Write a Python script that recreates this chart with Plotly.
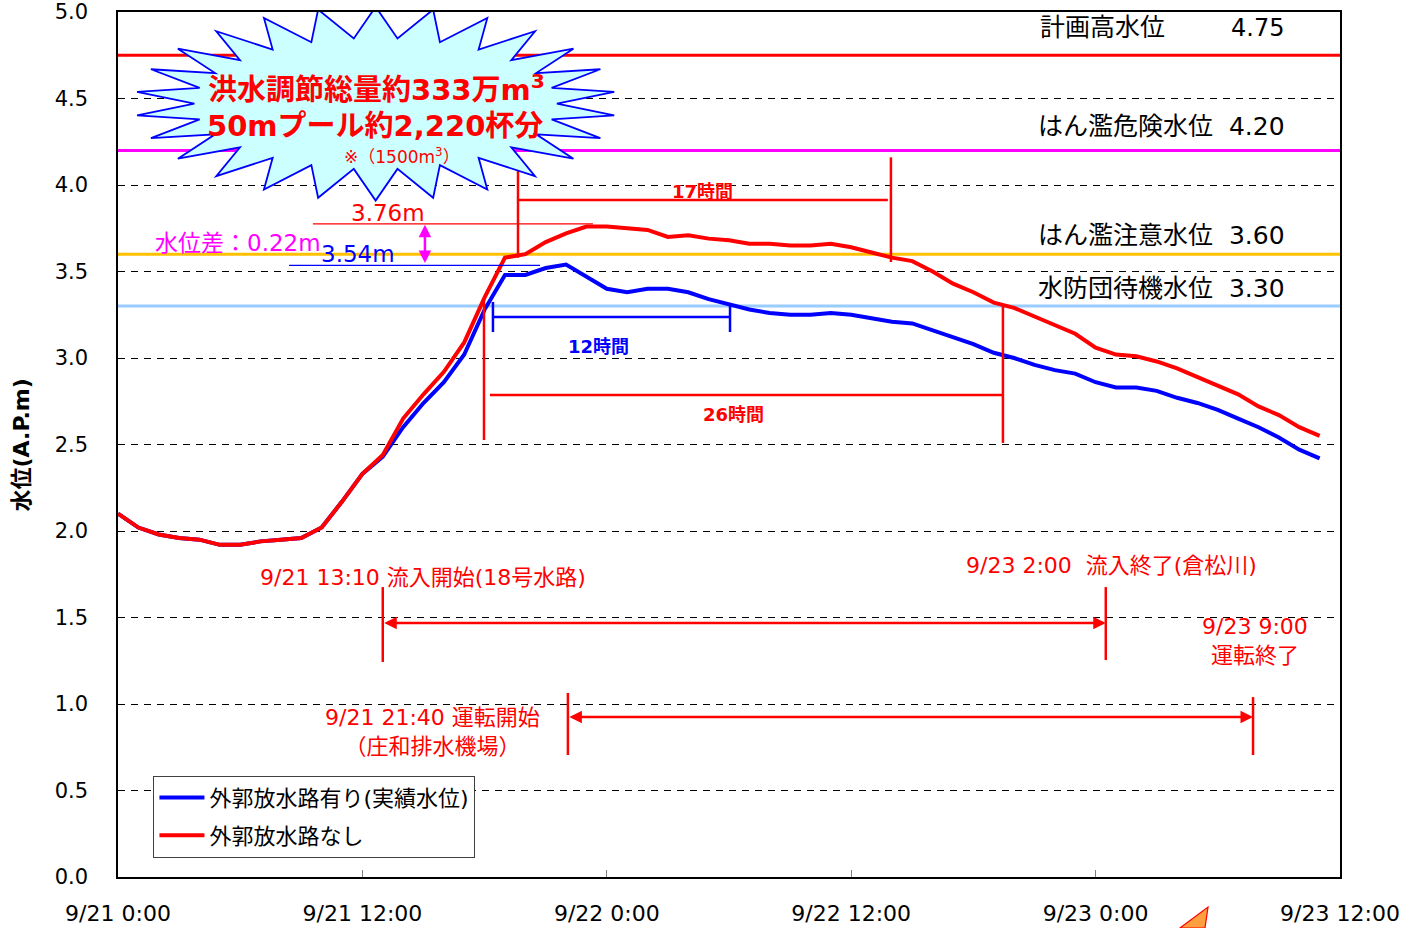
import math
import plotly.graph_objects as go

# ---------------- data ----------------
hours = list(range(60))
with_channel = [2.10, 2.02, 1.98, 1.96, 1.95, 1.92, 1.92, 1.94, 1.95, 1.96,
                2.02, 2.17, 2.33, 2.43, 2.60, 2.74, 2.86, 3.02, 3.28, 3.48,
                3.48, 3.52, 3.54, 3.47, 3.40, 3.38, 3.40, 3.40, 3.38, 3.34,
                3.31, 3.28, 3.26, 3.25, 3.25, 3.26, 3.25, 3.23, 3.21, 3.20,
                3.16, 3.12, 3.08, 3.03, 3.00, 2.96, 2.93, 2.91, 2.86, 2.83,
                2.83, 2.81, 2.77, 2.74, 2.70, 2.65, 2.60, 2.54, 2.47, 2.42]
without_channel = [2.10, 2.02, 1.98, 1.96, 1.95, 1.92, 1.92, 1.94, 1.95, 1.96,
                   2.02, 2.17, 2.33, 2.44, 2.65, 2.79, 2.92, 3.09, 3.35, 3.58,
                   3.60, 3.67, 3.72, 3.76, 3.76, 3.75, 3.74, 3.70, 3.71, 3.69,
                   3.68, 3.66, 3.66, 3.65, 3.65, 3.66, 3.64, 3.61, 3.58, 3.56,
                   3.50, 3.43, 3.38, 3.32, 3.29, 3.24, 3.19, 3.14, 3.06, 3.02,
                   3.01, 2.98, 2.94, 2.89, 2.84, 2.79, 2.72, 2.67, 2.60, 2.55]
series_names = ["外郭放水路有り(実績水位)", "外郭放水路なし"]

ref_levels = [4.75, 4.20, 3.60, 3.30]
ref_names = ["計画高水位", "はん濫危険水位", "はん濫注意水位", "水防団待機水位"]
ref_colors = ["#FF0000", "#FF00FF", "#FFC000", "#99CCFF"]

x_tickvals = [0, 12, 24, 36, 48, 60]
x_ticktext = ["9/21 0:00", "9/21 12:00", "9/22 0:00", "9/22 12:00", "9/23 0:00", "9/23 12:00"]
y_title = "水位(A.P.m)"

peak_without = 3.76
peak_with = 3.54

FONT = "DejaVu Sans, Noto Sans CJK JP, sans-serif"
RED = "#FF0000"
BLUE = "#0000FF"

fig = go.Figure()

# reference level lines
for lvl, col in zip(ref_levels, ref_colors):
    fig.add_trace(go.Scatter(x=[0, 60], y=[lvl, lvl], mode="lines",
                             line=dict(color=col, width=3), showlegend=False,
                             hoverinfo="skip"))

fig.add_trace(go.Scatter(x=hours, y=with_channel, mode="lines", name=series_names[0],
                         legendgroup="a", line=dict(color=BLUE, width=4)))
fig.add_trace(go.Scatter(x=hours, y=without_channel, mode="lines", name=series_names[1],
                         legendgroup="b", line=dict(color=RED, width=4)))

shapes = []
annotations = []


def seg(x0, y0, x1, y1, color, width):
    shapes.append(dict(type="line", xref="x", yref="y", x0=x0, y0=y0, x1=x1, y1=y1,
                       line=dict(color=color, width=width), layer="above"))


def txt(x, y, text, color, size, bold=False, family=FONT, xanchor="center"):
    if bold:
        text = "<b>" + text + "</b>"
    annotations.append(dict(x=x, y=y, xref="x", yref="y", text=text, showarrow=False,
                            xanchor=xanchor, yanchor="middle",
                            font=dict(color=color, size=size, family=family)))


def arrow(x0, y0, x1, y1, color, width, head=2, size=1.0):
    annotations.append(dict(x=x1, y=y1, ax=x0, ay=y0, xref="x", yref="y",
                            axref="x", ayref="y", text="", showarrow=True,
                            arrowhead=head, startarrowhead=head, arrowside="end+start",
                            arrowsize=size, startarrowsize=size,
                            arrowwidth=width, arrowcolor=color))


# 17 hours bracket (red)
seg(19.64, 4.17, 19.64, 3.58, RED, 2.5)
seg(37.95, 4.16, 37.95, 3.555, RED, 2.5)
seg(19.64, 3.913, 37.8, 3.913, RED, 2.5)
txt(28.72, 3.965, "17時間", RED, 18, bold=True)

# 12 hours bracket (blue)
seg(18.41, 3.324, 18.41, 3.150, BLUE, 2.5)
seg(30.05, 3.306, 30.05, 3.150, BLUE, 2.5)
seg(18.41, 3.237, 30.05, 3.237, BLUE, 2.5)
txt(23.57, 3.064, "12時間", BLUE, 18, bold=True)

# 26 hours bracket (red)
seg(17.97, 3.335, 17.97, 2.526, RED, 2.5)
seg(43.45, 3.306, 43.45, 2.509, RED, 2.5)
seg(18.26, 2.786, 43.45, 2.786, RED, 2.5)
txt(30.2, 2.676, "26時間", RED, 18, bold=True)

# peak markers
seg(9.57, peak_without + 0.015, 23.32, peak_without + 0.015, RED, 1.3)
seg(8.40, peak_with - 0.005, 20.72, peak_with - 0.005, BLUE, 1.3)
txt(13.26, 3.838, "%.2fm" % peak_without, RED, 23)
txt(11.78, 3.601, "%.2fm" % peak_with, BLUE, 23)
arrow(15.07, peak_with, 15.07, peak_without + 0.01, "#FF00FF", 2.5, head=2, size=1.0)
txt(5.89, 3.665, "水位差：%.2fm" % (peak_without - peak_with), "#FF00FF", 23)

# inflow period
seg(13.0, 1.676, 13.0, 1.243, RED, 2.5)
seg(48.5, 1.676, 48.5, 1.254, RED, 2.5)
arrow(13.0, 1.468, 48.5, 1.468, RED, 2.5, head=2, size=1.0)
txt(14.97, 1.734, "9/21 13:10 流入開始(18号水路)", RED, 22)
txt(48.8, 1.803, "9/23 2:00  流入終了(倉松川)", RED, 22)

# pump operation period
seg(22.09, 1.064, 22.09, 0.705, RED, 2.5)
seg(55.73, 1.040, 55.73, 0.705, RED, 2.5)
arrow(22.09, 0.925, 55.73, 0.925, RED, 2.5, head=2, size=1.0)
txt(15.42, 0.841, "9/21 21:40 運転開始<br>（庄和排水機場）", RED, 22)
txt(55.83, 1.364, "9/23 9:00<br>運転終了", RED, 22)

# reference labels
txt(45.17, 4.910, ref_names[0], "#000000", 25, xanchor="left")
txt(54.55, 4.910, "%.2f" % ref_levels[0], "#000000", 24, xanchor="left")
for name, lvl, yy in zip(ref_names[1:], ref_levels[1:], [4.341, 3.711, 3.399]):
    txt(45.05, yy, name + "  %.2f" % lvl, "#000000", 25, xanchor="left")

# starburst
cx, cy = 12.65, 4.47
n = 26
pts = []
for i in range(2 * n):
    ang = math.pi / 2 + i * math.pi / n
    if i % 2 == 0:
        rx, ry = 11.8, 0.56
    else:
        rx, ry = 8.9, 0.38
    pts.append((cx + rx * math.cos(ang), cy + ry * math.sin(ang)))
path = "M " + " L ".join("%.3f,%.3f" % p for p in pts) + " Z"
shapes.append(dict(type="path", xref="x", yref="y", path=path,
                   fillcolor="#CCFFFF", line=dict(color=BLUE, width=1.8), layer="above"))
txt(12.67, 4.561, "洪水調節総量約333万m<sup>3</sup>", RED, 29, bold=True)
txt(12.62, 4.341, "50mプール約2,220杯分", RED, 29, bold=True)
txt(13.94, 4.168, "※（1500m<sup>3</sup>）", RED, 17)

# y-axis title
annotations.append(dict(x=-0.0786, y=0.5, xref="paper", yref="paper",
                        text="<b>" + y_title + "</b>", textangle=-90, showarrow=False,
                        xanchor="center", yanchor="middle",
                        font=dict(size=22, family=FONT, color="#000000")))

# small orange clip-art corner
shapes.append(dict(type="path", xref="paper", yref="paper",
                   path="M 0.869,-0.059 L 0.892,-0.0347 L 0.8895,-0.059 Z",
                   fillcolor="#FFA040", line=dict(color=RED, width=1.2), layer="above"))

fig.update_layout(
    width=1424, height=928,
    margin=dict(l=118, r=84, t=12, b=51, autoexpand=False),
    paper_bgcolor="white", plot_bgcolor="white",
    font=dict(family=FONT, size=20, color="#000000"),
    shapes=shapes, annotations=annotations,
    showlegend=True,
    legend=dict(x=0.029, y=0.117, xanchor="left", yanchor="top",
                bgcolor="white", bordercolor="#404040", borderwidth=1,
                font=dict(family=FONT, size=22, color="#000000"),
                tracegroupgap=6, itemwidth=45),
)
fig.update_xaxes(range=[0, 60], tickvals=x_tickvals, ticktext=x_ticktext,
                 ticks="inside", ticklen=7, tickcolor="#808080",
                 showgrid=False, zeroline=False, automargin=False,
                 showline=True, mirror=True, linecolor="#000000", linewidth=1.5,
                 tickfont=dict(size=22, family=FONT), ticklabelstandoff=16,
                 ticklabeloverflow="allow")
fig.update_yaxes(range=[0, 5], dtick=0.5, tickformat=".1f",
                 ticks="", showgrid=True, gridcolor="#000000", gridwidth=0.8,
                 griddash="7px,6px", zeroline=False, automargin=False,
                 showline=True, mirror=True, linecolor="#000000", linewidth=1.5,
                 tickfont=dict(size=21, family=FONT), ticklabelstandoff=24,
                 ticklabeloverflow="allow")

fig.write_html("out.html", config={"displayModeBar": False},
               post_script="document.body.style.margin='0';document.body.style.overflow='hidden';")
